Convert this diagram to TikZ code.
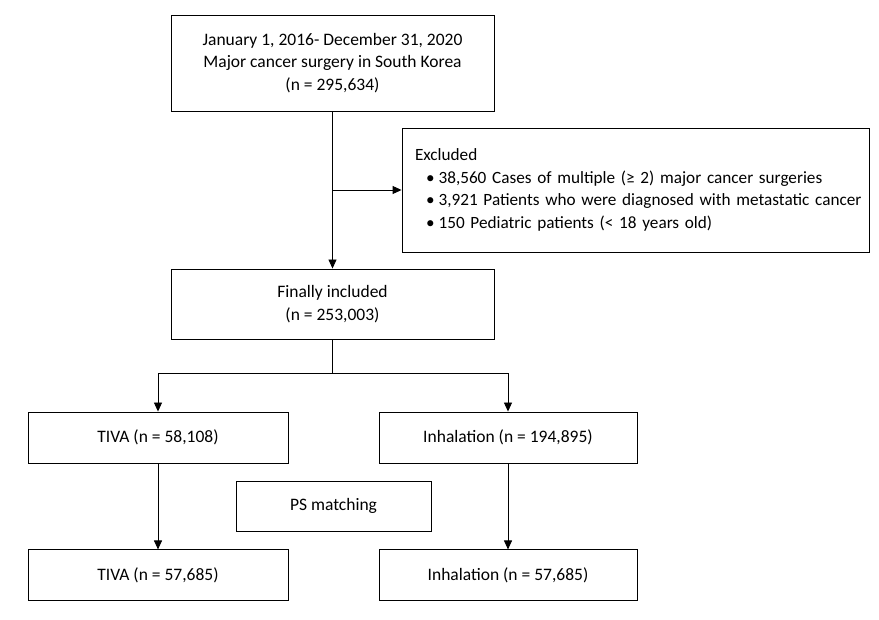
\documentclass[tikz,border=0pt]{standalone}
\usepackage{fontspec}
\setmainfont{Carlito}
\usetikzlibrary{positioning,arrows.meta}

\newcommand\excitem[1]{\mbox{\hspace*{11pt}•\hspace{4pt}#1}}

\tikzset{
  box/.style = {shape=rectangle, draw, line width=0.9pt, align=center,
    inner sep=0pt, font=\fontsize{17.5}{22.5}\selectfont},
  link/.style = {line width=0.9pt, -{Triangle[length=9pt,width=8pt]}}
}

\begin{document}
\begin{tikzpicture}[x=1pt,y=-1pt]
  \useasboundingbox (0,0) rectangle (879,620);
  % boxes
  \node[box, minimum width=323pt, minimum height=96pt] (cohort) at (332.5,63)
    {January 1, 2016- December 31, 2020\\Major cancer surgery in South Korea\\(n = 295,634)};
  \node[box, minimum width=467pt, minimum height=124pt, align=left,
        text width=441pt, font=\fontsize{17.2}{22.8}\selectfont] (excl) at (635.5,190)
    {Excluded\\
     \excitem{38,560 Cases of multiple (≥ 2) major cancer surgeries}\\
     \excitem{3,921 Patients who were diagnosed with metastatic cancer}\\
     \excitem{150 Pediatric patients (< 18 years old)}};
  \node[box, minimum width=323pt, minimum height=70pt] (incl) at (332.5,304)
    {Finally included\\(n = 253,003)};
  \node[box, minimum width=260pt, minimum height=51pt] (tiva) at (158,437.5)
    {TIVA (n = 58,108)};
  \node[box, minimum width=258pt, minimum height=51pt] (inh) at (508,437.5)
    {Inhalation (n = 194,895)};
  \node[box, minimum width=195pt, minimum height=50pt] (ps) at (333.5,506)
    {PS matching};
  \node[box, minimum width=260pt, minimum height=51pt, below=86pt of tiva] (tivam)
    {TIVA (n = 57,685)};
  \node[box, minimum width=258pt, minimum height=51pt, below=86pt of inh] (inhm)
    {Inhalation (n = 57,685)};
  % connectors
  \coordinate (split) at (332.5,190);
  \coordinate (fork) at (332.5,373);
  \draw[link] (cohort) -- (incl);
  \draw[link] (split) -- (excl.west);
  \draw[line width=0.9pt] (incl) -- (fork);
  \draw[link] (fork) -| (tiva.north);
  \draw[link] (fork) -| (inh.north);
  \draw[link] (tiva) -- (tivam);
  \draw[link] (inh) -- (inhm);
\end{tikzpicture}
\end{document}
